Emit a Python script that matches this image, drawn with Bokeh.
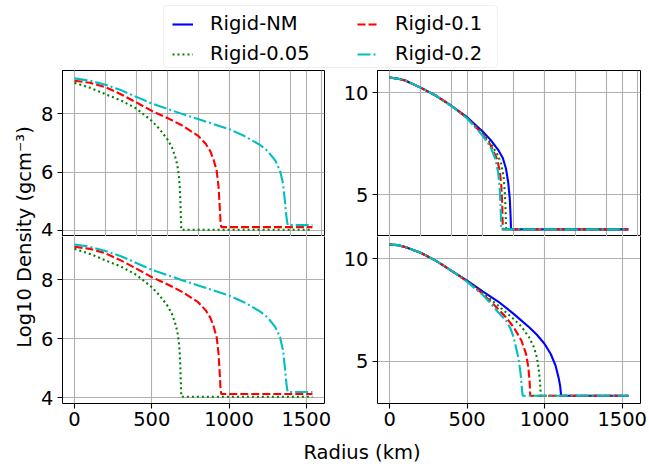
from math import pi
from bokeh.plotting import figure
from bokeh.models import Range1d, FixedTicker, Legend, LegendItem, Label, BoxAnnotation, Grid, LinearAxis
from bokeh.layouts import column, row
from bokeh.embed import file_html
from bokeh.resources import INLINE

FONT = "DejaVu Sans"
FS = "19.5px"

# ---------------- data ----------------
x_ticks = [0, 500, 1000, 1500]
left_y_ticks = [4, 6, 8]
right_y_ticks = [5, 10]

# left panels (top and bottom look identical)
tl_green_x = [0, 100, 200, 300, 400, 500, 550, 600, 630, 650, 665, 675, 681, 685, 688, 691, 1540]
tl_green_y = [9.05, 8.88, 8.66, 8.45, 8.17, 7.75, 7.47, 7.13, 6.85, 6.55, 6.25, 5.9, 5.5, 5.0, 4.5, 4.03, 4.03]
tl_red_x = [0, 100, 200, 300, 400, 500, 600, 700, 800, 850, 880, 900, 920, 932, 940, 945, 950, 1540]
tl_red_y = [9.12, 9.05, 8.9, 8.66, 8.38, 8.09, 7.85, 7.58, 7.24, 6.96, 6.7, 6.42, 6.05, 5.5, 4.8, 4.3, 4.12, 4.12]
tl_cyan_x = [0, 100, 200, 300, 400, 500, 600, 700, 800, 900, 1000, 1100, 1200, 1250, 1300, 1330, 1350, 1362, 1370, 1376, 1380, 1540]
tl_cyan_y = [9.2, 9.12, 8.98, 8.8, 8.57, 8.34, 8.16, 7.98, 7.81, 7.64, 7.47, 7.23, 6.93, 6.72, 6.39, 6.05, 5.6, 5.0, 4.55, 4.3, 4.19, 4.19]

bl_green_x = [0, 100, 200, 300, 400, 500, 550, 600, 630, 650, 665, 675, 681, 685, 688, 691, 1540]
bl_green_y = [9.05, 8.88, 8.66, 8.45, 8.17, 7.75, 7.47, 7.13, 6.85, 6.55, 6.25, 5.9, 5.5, 5.0, 4.5, 4.03, 4.03]
bl_red_x = [0, 100, 200, 300, 400, 500, 600, 700, 800, 850, 880, 900, 920, 932, 940, 945, 950, 1540]
bl_red_y = [9.12, 9.05, 8.9, 8.66, 8.38, 8.09, 7.85, 7.58, 7.24, 6.96, 6.7, 6.42, 6.05, 5.5, 4.8, 4.3, 4.12, 4.12]
bl_cyan_x = [0, 100, 200, 300, 400, 500, 600, 700, 800, 900, 1000, 1100, 1200, 1250, 1300, 1330, 1350, 1362, 1370, 1376, 1380, 1540]
bl_cyan_y = [9.2, 9.12, 8.98, 8.8, 8.57, 8.34, 8.16, 7.98, 7.81, 7.64, 7.47, 7.23, 6.93, 6.72, 6.39, 6.05, 5.6, 5.0, 4.55, 4.3, 4.19, 4.19]

# right top
tr_nm_x = [0, 50, 100, 200, 300, 400, 500, 600, 650, 700, 730, 750, 765, 775, 780, 783, 1540]
tr_nm_y = [10.74, 10.7, 10.6, 10.25, 9.85, 9.35, 8.8, 8.1, 7.7, 7.2, 6.8, 6.3, 5.6, 4.8, 4.0, 3.3, 3.3]
tr_green_x = [0, 50, 100, 200, 300, 400, 500, 600, 650, 700, 720, 735, 744, 748, 751, 1540]
tr_green_y = [10.74, 10.7, 10.6, 10.25, 9.85, 9.35, 8.78, 8.02, 7.55, 6.9, 6.5, 5.9, 5.0, 4.2, 3.3, 3.3]
tr_red_x = [0, 50, 100, 200, 300, 400, 500, 600, 650, 690, 710, 720, 726, 730, 1540]
tr_red_y = [10.74, 10.7, 10.6, 10.25, 9.85, 9.35, 8.76, 7.96, 7.45, 6.8, 6.2, 5.5, 4.6, 3.3, 3.3]
tr_cyan_x = [0, 50, 100, 200, 300, 400, 500, 600, 650, 680, 700, 710, 716, 720, 1540]
tr_cyan_y = [10.74, 10.7, 10.6, 10.25, 9.85, 9.34, 8.74, 7.9, 7.35, 6.8, 6.1, 5.3, 4.4, 3.3, 3.3]

# right bottom
br_nm_x = [0, 50, 100, 200, 300, 400, 500, 600, 700, 800, 900, 950, 1000, 1040, 1070, 1090, 1100, 1106, 1540]
br_nm_y = [10.7, 10.67, 10.58, 10.3, 9.9, 9.42, 8.94, 8.42, 7.92, 7.32, 6.67, 6.3, 5.85, 5.35, 4.8, 4.2, 3.8, 3.33, 3.33]
br_green_x = [0, 50, 100, 200, 300, 400, 500, 600, 700, 800, 850, 900, 930, 950, 962, 970, 975, 1540]
br_green_y = [10.7, 10.67, 10.58, 10.3, 9.9, 9.42, 8.92, 8.35, 7.72, 7.07, 6.7, 6.17, 5.7, 5.2, 4.6, 4.0, 3.33, 3.33]
br_red_x = [0, 50, 100, 200, 300, 400, 500, 600, 700, 750, 800, 850, 880, 895, 903, 907, 1540]
br_red_y = [10.7, 10.67, 10.58, 10.3, 9.9, 9.42, 8.9, 8.3, 7.56, 7.15, 6.67, 6.02, 5.37, 4.7, 4.0, 3.33, 3.33]
br_cyan_x = [0, 50, 100, 200, 300, 400, 500, 600, 650, 700, 750, 780, 800, 830, 845, 853, 858, 1540]
br_cyan_y = [10.7, 10.67, 10.58, 10.3, 9.9, 9.42, 8.88, 8.25, 7.85, 7.4, 7.0, 6.6, 6.18, 5.2, 4.4, 3.7, 3.33, 3.33]

labels = ["Rigid-NM", "Rigid-0.05", "Rigid-0.1", "Rigid-0.2"]

# ---------------- styles ----------------
STY = {
    "nm": dict(line_color="#0000ff", line_width=2.1),
    "g": dict(line_color="#008000", line_width=2.1, line_dash="2 3"),
    "r": dict(line_color="#ff0000", line_width=2.1, line_dash="8 3"),
    "c": dict(line_color="#00bfbf", line_width=2.1, line_dash="13 3 2 3"),
}

X_RANGE = (-78, 1618)
LEFT_YR = (3.8, 9.47)
RIGHT_YR = (2.95, 11.09)


def style_axis(ax):
    ax.major_label_text_font = FONT
    ax.major_label_text_font_size = FS
    ax.major_label_text_color = "black"
    ax.major_tick_out = 5
    ax.major_tick_in = 0
    ax.minor_tick_out = 0
    ax.minor_tick_in = 0
    ax.major_tick_line_color = "black"
    ax.major_tick_line_width = 1.1
    ax.axis_line_color = "black"
    ax.axis_line_width = 1


def panel(width, height, yr, yticks, mbl, mbr, mbt, mbb, show_x):
    p = figure(width=width, height=height, x_range=Range1d(*X_RANGE), y_range=Range1d(*yr),
               output_backend="svg", toolbar_location=None, tools="", title=None,
               x_axis_location=("below" if show_x else None),
               min_border_left=mbl, min_border_right=mbr, min_border_top=mbt, min_border_bottom=mbb)
    p.background_fill_color = "white"
    p.border_fill_color = "white"
    axes = list(p.yaxis) + (list(p.xaxis) if show_x else [])
    for ax in axes:
        style_axis(ax)
    p.yaxis.ticker = FixedTicker(ticks=yticks)
    p.yaxis.major_label_standoff = 4
    if show_x:
        # lower panels: spines from axes (the top spine is the upper panel's frame)
        p.outline_line_color = None
        p.xaxis.ticker = FixedTicker(ticks=x_ticks)
        p.xaxis.major_label_standoff = 3
        p.xgrid.ticker = FixedTicker(ticks=x_ticks)
        spine = LinearAxis(ticker=FixedTicker(ticks=[]), major_label_text_font_size="0px",
                           major_tick_out=0, major_tick_in=0, minor_tick_out=0, minor_tick_in=0,
                           major_label_standoff=0, axis_line_color="black", axis_line_width=1)
        p.add_layout(spine, "right")
    else:
        p.outline_line_color = "black"
        p.outline_line_width = 1
        p.add_layout(Grid(dimension=0, ticker=FixedTicker(ticks=x_ticks)))
    p.ygrid.ticker = FixedTicker(ticks=yticks)
    for g in p.grid:
        g.grid_line_color = "#b0b0b0"
        g.grid_line_width = 1.1
    return p


# page origin is (0, 0)
YL_W = 38
LW, RW = 302, 309
TH, BH = 168, 200
LEG_H, XL_H = 68, 28
FULL_W = YL_W + LW + RW

tl = panel(LW, TH, LEFT_YR, left_y_ticks, 22, 16, 2, 0, False)
bl = panel(LW, BH, LEFT_YR, left_y_ticks, 22, 16, 0, 33, True)
tr = panel(RW, TH, RIGHT_YR, right_y_ticks, 37, 9, 2, 0, False)
br = panel(RW, BH, RIGHT_YR, right_y_ticks, 37, 9, 0, 33, True)

tl.line(tl_green_x, tl_green_y, **STY["g"])
tl.line(tl_red_x, tl_red_y, **STY["r"])
tl.line(tl_cyan_x, tl_cyan_y, **STY["c"])

bl.line(bl_green_x, bl_green_y, **STY["g"])
bl.line(bl_red_x, bl_red_y, **STY["r"])
bl.line(bl_cyan_x, bl_cyan_y, **STY["c"])

tr.line(tr_nm_x, tr_nm_y, **STY["nm"])
tr.line(tr_green_x, tr_green_y, **STY["g"])
tr.line(tr_red_x, tr_red_y, **STY["r"])
tr.line(tr_cyan_x, tr_cyan_y, **STY["c"])

br.line(br_nm_x, br_nm_y, **STY["nm"])
br.line(br_green_x, br_green_y, **STY["g"])
br.line(br_red_x, br_red_y, **STY["r"])
br.line(br_cyan_x, br_cyan_y, **STY["c"])


def blank(width, height):
    p = figure(width=width, height=height, x_range=Range1d(0, width), y_range=Range1d(0, height),
               output_backend="svg", toolbar_location=None, tools="", title=None,
               x_axis_location=None, y_axis_location=None, min_border=0)
    p.outline_line_color = None
    p.grid.visible = False
    p.background_fill_color = "white"
    p.border_fill_color = "white"
    return p


# ---------------- legend strip ----------------
leg = blank(FULL_W, LEG_H)
leg.add_layout(BoxAnnotation(left=163, right=497, bottom=1, top=63, fill_color="white", fill_alpha=0.8,
                             line_color="#cccccc", line_width=1, border_radius=4, level="underlay"))
# legend-only renderers: a placeholder placed outside the visible range
hid_x = [-50, -40]
hid_y = [-50, -50]
r_nm = leg.line(hid_x, hid_y, **STY["nm"])
r_g = leg.line(hid_x, hid_y, **STY["g"])
r_r = leg.line(hid_x, hid_y, **STY["r"])
r_c = leg.line(hid_x, hid_y, **STY["c"])


def mk_legend(items, loc):
    return Legend(items=items, location=loc, orientation="vertical", padding=0, margin=0, spacing=7,
                  glyph_width=21, glyph_height=20, label_height=20, label_standoff=17,
                  label_text_font=FONT, label_text_font_size=FS, label_text_color="black",
                  background_fill_alpha=0, border_line_alpha=0)


leg.add_layout(mk_legend([LegendItem(label=labels[0], renderers=[r_nm]),
                          LegendItem(label=labels[1], renderers=[r_g])], (172, 3)))
leg.add_layout(mk_legend([LegendItem(label=labels[2], renderers=[r_r]),
                          LegendItem(label=labels[3], renderers=[r_c])], (357, 3)))

# ---------------- y label strip ----------------
ylab = blank(YL_W, TH + BH)
ylab.add_layout(Label(x=23.5, y=TH + BH - 168.5, x_units="screen", y_units="screen",
                      text="Log10 Density (gcm\u207b\u00b3)", angle=pi / 2, text_align="center",
                      text_baseline="alphabetic", text_font=FONT, text_font_size=FS, text_color="black"))

# ---------------- x label strip ----------------
xlab = blank(FULL_W, XL_H)
xlab.add_layout(Label(x=361.5, y=12.5, x_units="screen", y_units="screen", text="Radius (km)",
                      text_align="center", text_baseline="alphabetic", text_font=FONT,
                      text_font_size=FS, text_color="black"))

layout = column(leg, row(ylab, column(tl, bl), column(tr, br)), xlab)

open("out.html", "w").write(file_html(layout, INLINE))
